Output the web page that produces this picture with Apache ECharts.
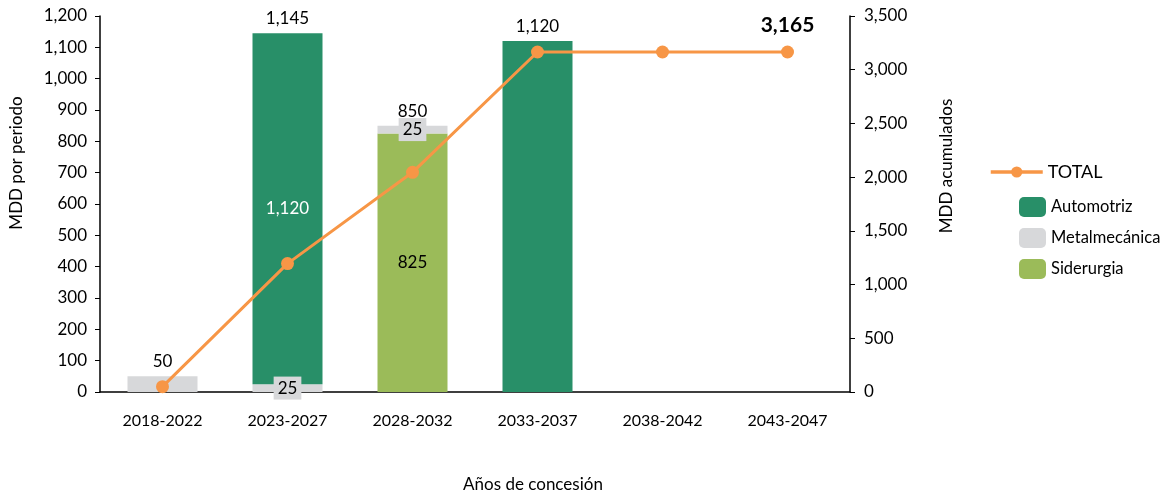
<!DOCTYPE html>
<html>
<head>
<meta charset="utf-8">
<script src="https://cdn.jsdelivr.net/npm/echarts@6/dist/echarts.min.js"></script>
<style>
    html, body {margin: 0; padding: 0; background: #fff;}
    #chart {width: 1169px; height: 496px;}
</style>
</head>
<body>
<div id="chart"></div>
<script>
    // periodos de concesión
    const periodos = ['2018-2022', '2023-2027', '2028-2032', '2033-2037', '2038-2042', '2043-2047']
    // MDD por periodo, por sector
    const siderurgia = [null, null, 825, null, null, null]
    const metalmecanica = [50, 25, 25, null, null, null]
    const automotriz = [null, 1120, null, 1120, null, null]
    // suma por periodo (etiqueta sobre la barra)
    const sumaPeriodo = [50, 1145, 850, 1120, null, null]
    // MDD acumulados
    const totalAcumulado = [50, 1195, 2045, 3165, 3165, 3165]

    const fontFamily = 'Lato'
    const fmt = v => Number(v).toLocaleString('en-US')

    const chart = echarts.init(document.getElementById('chart'))

    //etiqueta interior sólo donde el original la muestra
    const withLabel = (arr, showIdx) => arr.map((v, i) => {
        if (v === null) return null
        return showIdx.includes(i) ? {value: v, label: {show: true}} : v
    })

    const option = {
        textStyle: {fontFamily: fontFamily},
        animation: false,
        grid: {left: 100, right: 319, top: 16, bottom: 104, outerBoundsMode: 'none'},
        legend: [
            {
                data: ['TOTAL'],
                left: 984,
                top: 158,
                itemWidth: 52,
                itemHeight: 14,
                lineStyle: {width: 3.5},
                textStyle: {fontSize: 18, color: '#000', fontFamily: fontFamily}
            },
            {
                data: ['Automotriz', 'Metalmecánica', 'Siderurgia'],
                orient: 'vertical',
                left: 1014,
                top: 192,
                itemWidth: 27,
                itemHeight: 20,
                itemGap: 11,
                textStyle: {fontSize: 16.5, color: '#000', fontFamily: fontFamily}
            }
        ],
        xAxis: {
            type: 'category',
            data: periodos,
            name: 'Años de concesión',
            nameLocation: 'middle',
            nameGap: 84,
            nameTextStyle: {fontSize: 17, color: '#000', padding: [0, 0, 0, 116]},
            axisLine: {lineStyle: {color: '#000', width: 1.5}},
            axisTick: {show: false},
            axisLabel: {fontSize: 16, color: '#000', margin: 21}
        },
        yAxis: [
            {
                type: 'value',
                min: 0,
                max: 1200,
                interval: 100,
                name: 'MDD por periodo',
                nameLocation: 'middle',
                nameRotate: 90,
                nameGap: 75,
                nameTextStyle: {fontSize: 17, color: '#000', padding: [0, 0, 0, 82]},
                axisLine: {show: true, lineStyle: {color: '#000', width: 1.5}},
                axisTick: {show: true, length: 5, lineStyle: {color: '#000'}},
                axisLabel: {fontSize: 17, color: '#000', formatter: fmt, margin: 13},
                splitLine: {show: false}
            },
            {
                type: 'value',
                min: 0,
                max: 3500,
                interval: 500,
                name: 'MDD acumulados',
                nameLocation: 'middle',
                nameRotate: 90,
                nameGap: 88,
                nameTextStyle: {fontSize: 17, color: '#000', padding: [0, 0, 0, 76]},
                axisLine: {show: true, lineStyle: {color: '#000', width: 1.5}},
                axisTick: {show: true, length: 5, lineStyle: {color: '#000'}},
                axisLabel: {fontSize: 17, color: '#000', formatter: fmt, margin: 14},
                splitLine: {show: false}
            }
        ],
        series: [
            {
                name: 'Siderurgia',
                type: 'bar',
                stack: 'mdd',
                barWidth: '56%',
                itemStyle: {color: '#9bbb59'},
                label: {position: 'inside', color: '#000', fontSize: 17, formatter: p => fmt(p.value)},
                data: withLabel(siderurgia, [2])
            },
            {
                name: 'Metalmecánica',
                type: 'bar',
                stack: 'mdd',
                itemStyle: {color: '#d7d8da'},
                label: {
                    position: 'inside', color: '#000', fontSize: 17,
                    backgroundColor: '#d7d8da', padding: [3, 4],
                    formatter: p => fmt(p.value)
                },
                data: withLabel(metalmecanica, [1, 2])
            },
            {
                name: 'Automotriz',
                type: 'bar',
                stack: 'mdd',
                itemStyle: {color: '#288f68'},
                label: {position: 'inside', color: '#fff', fontSize: 17, formatter: p => fmt(p.value)},
                data: withLabel(automotriz, [1])
            },
            {
                // serie vacía para rotular la suma del periodo
                name: 'suma',
                type: 'bar',
                stack: 'mdd',
                itemStyle: {color: 'transparent'},
                label: {
                    show: true,
                    position: 'top',
                    distance: 6,
                    color: '#000',
                    fontSize: 17,
                    formatter: p => sumaPeriodo[p.dataIndex] === null ? '' : fmt(sumaPeriodo[p.dataIndex])
                },
                data: sumaPeriodo.map(v => v === null ? null : 0)
            },
            {
                name: 'TOTAL',
                type: 'line',
                yAxisIndex: 1,
                z: 5,
                symbol: 'circle',
                symbolSize: 13,
                lineStyle: {color: '#f79646', width: 3},
                itemStyle: {color: '#f79646'},
                data: totalAcumulado.map((v, i) => i === totalAcumulado.length - 1 ? {
                    value: v,
                    label: {
                        show: true, position: 'top', distance: 10,
                        fontSize: 21, fontWeight: 'bold', color: '#000',
                        formatter: p => fmt(p.value)
                    }
                } : v)
            }
        ]
    }
    chart.setOption(option)
</script>
</body>
</html>
